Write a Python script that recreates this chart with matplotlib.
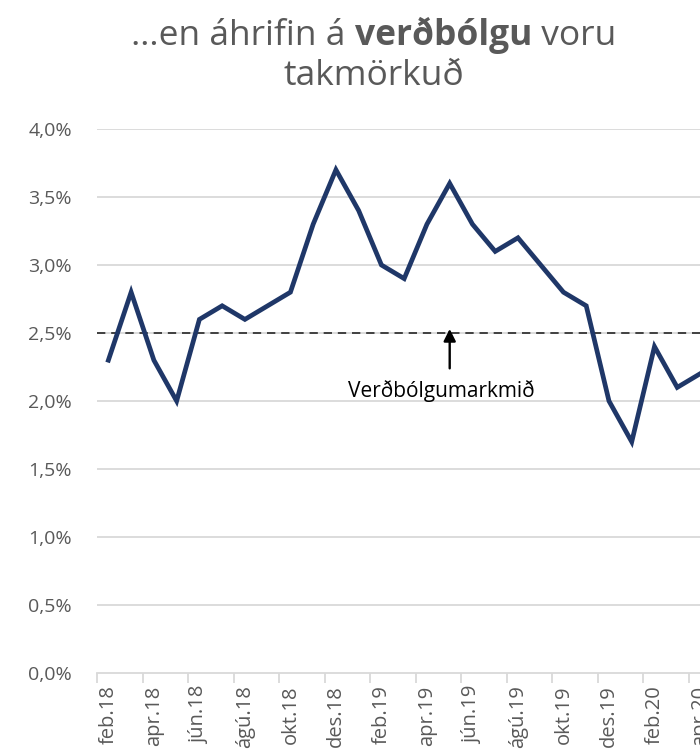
import numpy as np
import matplotlib
matplotlib.use("Agg")
import matplotlib.pyplot as plt

plt.rcParams.update({"font.family": ["Open Sans", "DejaVu Sans"]})

months = ["feb.18", "mar.18", "apr.18", "maí.18", "jún.18", "júl.18", "ágú.18",
          "sep.18", "okt.18", "nóv.18", "des.18", "jan.19", "feb.19", "mar.19",
          "apr.19", "maí.19", "jún.19", "júl.19", "ágú.19", "sep.19", "okt.19",
          "nóv.19", "des.19", "jan.20", "feb.20", "mar.20", "apr.20"]
inflation = [2.3, 2.8, 2.3, 2.0, 2.6, 2.7, 2.6, 2.7, 2.8, 3.3, 3.7, 3.4, 3.0, 2.9,
             3.3, 3.6, 3.3, 3.1, 3.2, 3.0, 2.8, 2.7, 2.0, 1.7, 2.4, 2.1, 2.2]
target = 2.5
yticks = [0.0, 0.5, 1.0, 1.5, 2.0, 2.5, 3.0, 3.5, 4.0]

GREY = "#595959"
NAVY = "#1f3768"

W, H = 700, 751
fig = plt.figure(figsize=(W / 100, H / 100), dpi=100)
ax = fig.add_axes([97 / W, 1 - 673 / H, (W - 97) / W, (673 - 129) / H])

x = np.arange(len(months))
ax.plot(x, inflation, color=NAVY, lw=3.4, solid_joinstyle="miter", zorder=3)
ax.axhline(target, color="#262626", lw=1.2, ls=(0, (5, 3.5)), zorder=2)

ax.annotate("", xy=(15.0, 2.53), xytext=(15.0, 2.24),
            arrowprops=dict(arrowstyle="-|>", color="black", lw=1.7,
                            mutation_scale=18, shrinkA=0, shrinkB=0))
ax.text(14.65, 2.07, "Verðbólgumarkmið", ha="center", va="center",
        fontsize=15, color="black")

ax.set_xlim(-0.5, 25.95)
ax.set_ylim(0, 4.0)
ax.set_yticks(yticks)
ax.set_yticklabels([f"{v:.1f}%".replace(".", ",") for v in yticks],
                   fontsize=14, color=GREY)
for v in yticks[1:]:
    ax.axhline(v, color="#d9d9d9", lw=1.3, zorder=1)

ax.set_xticks(x[::2])
ax.set_xticklabels(months[::2], rotation=90, fontsize=14.5, color=GREY)
ax.set_xticks(np.arange(-0.5, len(months), 2), minor=True)
ax.tick_params(axis="x", which="major", length=0, pad=9)
ax.tick_params(axis="x", which="minor", length=7, color="#d9d9d9", width=1.3)
ax.tick_params(axis="y", length=0, pad=18)

for s in ["top", "right", "left"]:
    ax.spines[s].set_visible(False)
ax.spines["bottom"].set_color("#d9d9d9")
ax.spines["bottom"].set_linewidth(1.3)

# title with bold middle word, centred as a whole
parts = [("…en áhrifin á ", "normal"), ("verðbólgu", "bold"), (" voru", "normal")]
texts = [fig.text(0, 1 - 45 / H, s, fontsize=25.5, color=GREY, fontweight=w,
                  va="baseline", ha="left") for s, w in parts]
fig.canvas.draw()
r = fig.canvas.get_renderer()
widths = [t.get_window_extent(r).width for t in texts]
left = 374 - sum(widths) / 2
for t, w in zip(texts, widths):
    t.set_x(left / W)
    left += w
fig.text(374 / W, 1 - 85 / H, "takmörkuð", fontsize=25.5, color=GREY,
         ha="center", va="baseline")

fig.savefig("out.png", dpi=100)
